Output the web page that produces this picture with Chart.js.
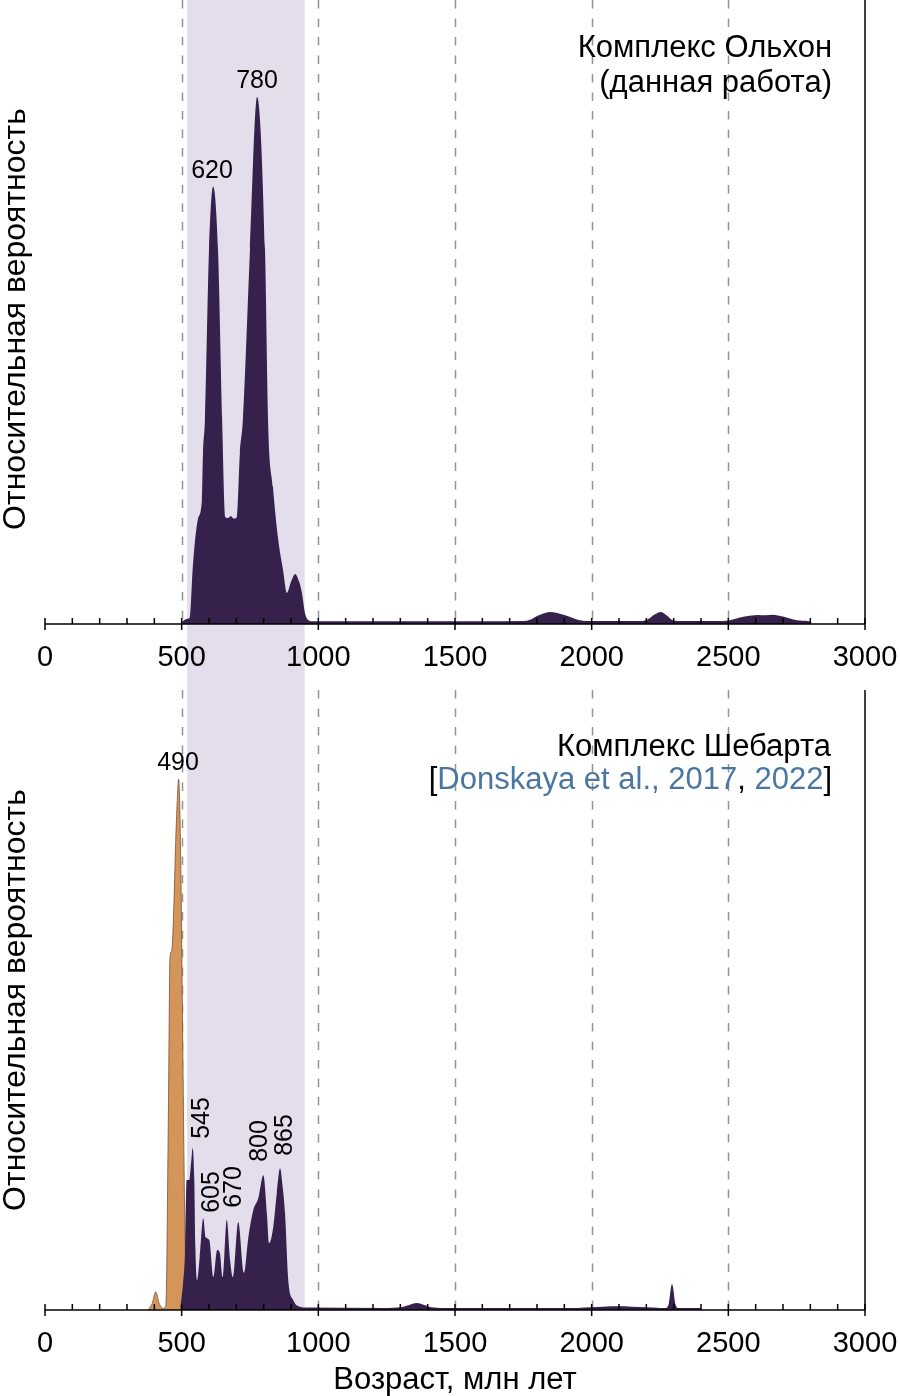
<!DOCTYPE html>
<html>
<head>
<meta charset="utf-8">
<script src="https://cdn.jsdelivr.net/npm/chart.js@4.4.1/dist/chart.umd.min.js"></script>
<style>
  body { margin: 0; background: #fff; width: 900px; height: 1396px; overflow: hidden; position: relative; }
  canvas { position: absolute; left: 0; }
</style>
</head>
<body>
<canvas id="olkhon" width="900" height="690" style="top:0px"></canvas>
<canvas id="shebarta" width="900" height="706" style="top:690px"></canvas>
<script>
// ages (Ma) and relative probability
var olkhonAge  = [500, 520, 530, 541, 560, 574, 578, 585, 600, 615, 633, 648, 659, 670, 680, 690, 702, 713, 724, 750, 776, 805, 816, 834, 852, 871, 885, 900, 915, 930, 940, 951, 962, 980,
                  1000, 1300, 1600, 1750, 1775, 1800, 1847, 1900, 1957, 2000, 2180, 2206, 2230, 2254, 2275, 2297, 2330, 2480, 2506, 2560, 2608, 2635, 2663, 2700, 2751, 2790, 2800];
var olkhonProb = [0.4, 1, 1.3, 11, 20, 23.5, 32.4, 38.7, 71, 83, 71, 38.7, 20.3, 20.1, 20.5, 20.0, 20.3, 32.4, 38.7, 71, 100, 71, 38.7, 26, 16.5, 10.2, 5.9, 8, 9.5, 8, 5.9, 2.1, 0.8, 0.5,
                  0.5, 0.5, 0.5, 0.55, 0.8, 1.5, 2.3, 1.7, 0.7, 0.55, 0.55, 0.9, 1.8, 2.3, 1.6, 0.7, 0.55, 0.55, 0.7, 1.4, 1.7, 1.65, 1.75, 1.4, 0.7, 0.55, 0.5];

var shebAge  = [495, 505, 512, 518, 528, 535, 540, 546, 550, 556, 566, 579, 588, 601, 616, 630, 640, 650, 665, 676, 687, 707, 728, 744, 762, 780, 799, 812, 820, 835, 848, 860, 870, 878, 890, 908, 933, 960,
                1250, 1299, 1330, 1360, 1390, 1415, 1450, 1950, 1994, 2093, 2202, 2250, 2270, 2282, 2290, 2294, 2298, 2306, 2318, 2400];
var shebProb = [0.5, 5, 10.7, 24.5, 24.5, 28, 30.5, 25, 12, 5.6, 10, 17.3, 13.7, 13.2, 6.2, 11.3, 10.7, 6.2, 17, 10, 6.2, 16.6, 7, 13.7, 18.8, 21, 25.4, 18, 12.6, 15.6, 22, 26.7, 23, 18.3, 5.6, 1.9, 0.6, 0.45,
                0.4, 0.5, 0.9, 1.3, 0.9, 0.5, 0.4, 0.4, 0.5, 0.7, 0.5, 0.4, 0.4, 1.2, 4.2, 4.9, 4.2, 1.2, 0.4, 0.4];

// younger group, orange
var youngAge  = [377, 392, 405, 418, 432, 440, 445, 448, 452, 457, 462, 466, 472, 478, 484, 489, 493, 497, 500, 503, 506, 510, 515, 520, 524];
var youngProb = [0, 1.2, 3.4, 1.2, 0.3, 0.5, 5.6, 20, 40, 66, 67.5, 69, 77, 88, 96, 100, 95, 83, 70, 55, 40, 22, 8, 1, 0];

var bandAges = [520, 950];                       // shaded interval
var gridAges = [500, 1000, 1500, 2000, 2500];    // dashed lines

var FONT = '"Liberation Sans", Arial, sans-serif';
var PURPLE = '#35214b';
var ORANGE = '#d4955b';
var BLUE = '#4a76a0';

function pts(xs, ys) {
  var out = [];
  for (var i = 0; i < xs.length; i++) out.push({x: xs[i], y: ys[i]});
  return out;
}

function kde(xs, ys, color, edge) {
  return {
    data: pts(xs, ys),
    borderColor: edge || color,
    borderWidth: edge ? 0.8 : 0,
    backgroundColor: color,
    fill: 'origin',
    pointRadius: 0,
    cubicInterpolationMode: 'monotone'
  };
}

// band, dashed lines, axis, ticks and texts
function decor(texts, bandToBottom) {
  return {
    id: 'decor',
    beforeDraw: function(chart) {
      var c = chart.ctx, a = chart.chartArea, x = chart.scales.x;
      var x0 = x.getPixelForValue(bandAges[0]), x1 = x.getPixelForValue(bandAges[1]);
      c.save();
      c.fillStyle = '#e3ddec';
      c.fillRect(x0, a.top, x1 - x0, (bandToBottom ? chart.height : a.bottom) - a.top);
      c.restore();
    },
    beforeDatasetsDraw: function(chart) {
      var c = chart.ctx, a = chart.chartArea, x = chart.scales.x;
      c.save();
      c.strokeStyle = '#939393';
      c.lineWidth = 1.5;
      c.setLineDash([8.5, 10]);
      gridAges.forEach(function(v) {
        var px = Math.round(x.getPixelForValue(v)) + 0.5;
        c.beginPath(); c.moveTo(px, a.top); c.lineTo(px, a.bottom); c.stroke();
      });
      c.restore();
    },
    afterDraw: function(chart) {
      var c = chart.ctx, a = chart.chartArea, x = chart.scales.x;
      c.save();
      c.strokeStyle = '#000';
      c.lineWidth = 1.5;
      c.beginPath(); c.moveTo(a.left, a.bottom); c.lineTo(a.right, a.bottom); c.stroke();
      c.beginPath(); c.moveTo(a.right, a.top); c.lineTo(a.right, a.bottom); c.stroke();
      for (var v = 0; v <= 3000; v += 100) {
        var px = x.getPixelForValue(v);
        var major = v % 500 === 0;
        c.beginPath();
        c.moveTo(px, a.bottom - 6);
        c.lineTo(px, a.bottom + (major ? 6 : 0));
        c.stroke();
      }
      texts.forEach(function(t) {
        c.save();
        c.font = t.size + 'px ' + FONT;
        c.textAlign = t.align || 'center';
        c.textBaseline = t.base || 'alphabetic';
        c.translate(t.x, t.y);
        if (t.rot) c.rotate(t.rot);
        if (t.parts) {
          var w = 0;
          t.parts.forEach(function(p) { w += c.measureText(p[0]).width; });
          var cx = -w;
          c.textAlign = 'left';
          t.parts.forEach(function(p) {
            c.fillStyle = p[1];
            c.fillText(p[0], cx, 0);
            cx += c.measureText(p[0]).width;
          });
        } else {
          c.fillStyle = t.color || '#000';
          c.fillText(t.text, 0, 0);
        }
        c.restore();
      });
      c.restore();
    }
  };
}

function makeChart(id, datasets, yMax, xHeight, texts, bandToBottom) {
  return new Chart(document.getElementById(id), {
    type: 'line',
    data: { datasets: datasets },
    options: {
      responsive: false,
      animation: false,
      events: [],
      layout: { padding: { left: 0, right: 35, top: 0, bottom: 0 } },
      plugins: { legend: { display: false }, tooltip: { enabled: false } },
      scales: {
        x: {
          type: 'linear', min: 0, max: 3000,
          afterFit: function(s) { s.height = xHeight; s.paddingRight = 0; s.paddingLeft = 0; },
          grid: { display: false, drawTicks: false },
          border: { display: false },
          ticks: { stepSize: 500, autoSkip: false, maxRotation: 0, color: '#000', padding: 17,
                   font: { family: FONT, size: 29 },
                   callback: function(v) { return String(v); } }
        },
        y: {
          min: 0, max: yMax,
          afterFit: function(s) { s.width = 45; },
          ticks: { display: false },
          grid: { display: false },
          border: { display: false }
        }
      }
    },
    plugins: [decor(texts, bandToBottom)]
  });
}

var yTitle = 'Относительная вероятность';

makeChart('olkhon', [kde(olkhonAge, olkhonProb, PURPLE)], 118.4, 66, [
  { text: yTitle, x: 25, y: 319, size: 32, rot: -Math.PI / 2 },
  { text: '620', x: 212, y: 178, size: 25 },
  { text: '780', x: 257, y: 88, size: 25 },
  { text: 'Комплекс Ольхон', x: 832, y: 57, size: 31, align: 'right' },
  { text: '(данная работа)', x: 832, y: 92, size: 31, align: 'right' }
], true);

makeChart('shebarta', [kde(youngAge, youngProb, ORANGE, '#7a5030'), kde(shebAge, shebProb, PURPLE)].reverse(), 116.8, 86, [
  { text: yTitle, x: 25, y: 310, size: 32, rot: -Math.PI / 2 },
  { text: '490', x: 178, y: 80, size: 25 },
  { text: '545', x: 209, y: 428, size: 25, rot: -Math.PI / 2 },
  { text: '605', x: 219, y: 502, size: 25, rot: -Math.PI / 2 },
  { text: '670', x: 241, y: 497, size: 25, rot: -Math.PI / 2 },
  { text: '800', x: 267, y: 451, size: 25, rot: -Math.PI / 2 },
  { text: '865', x: 292, y: 445, size: 25, rot: -Math.PI / 2 },
  { text: 'Комплекс Шебарта', x: 831, y: 66, size: 31, align: 'right' },
  { parts: [['[', '#000'], ['Donskaya et al., 2017', BLUE], [', ', '#000'], ['2022', BLUE], [']', '#000']], x: 832, y: 99, size: 31 },
  { text: 'Возраст, млн лет', x: 455, y: 699, size: 31 }
], false);
</script>
</body>
</html>
